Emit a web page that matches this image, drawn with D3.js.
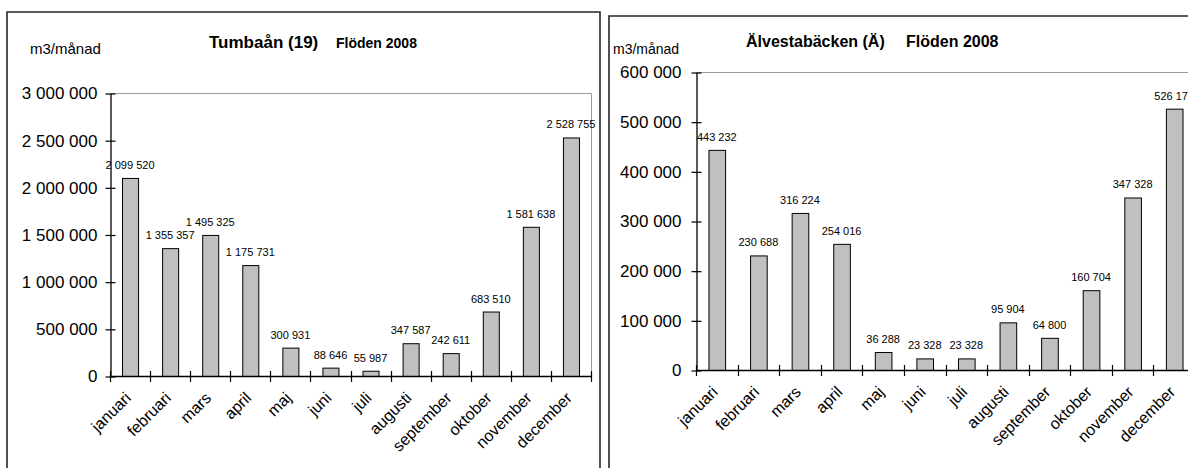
<!DOCTYPE html>
<html>
<head>
<meta charset="utf-8">
<script src="https://cdn.jsdelivr.net/npm/d3@7"></script>
<style>
  html, body { margin: 0; padding: 0; background: #fff; }
  svg { display: block; font-family: "Liberation Sans", Arial, sans-serif; }
</style>
</head>
<body>
<svg id="chart" width="1188" height="468"></svg>
<script>
// Monthly flows 2008 (m3 per month)
const months = ["januari", "februari", "mars", "april", "maj", "juni", "juli",
                "augusti", "september", "oktober", "november", "december"];
const tumbaanFlows = [2099520, 1355357, 1495325, 1175731, 300931, 88646, 55987,
                      347587, 242611, 683510, 1581638, 2528755];
const alvestaFlows = [443232, 230688, 316224, 254016, 36288, 23328, 23328,
                      95904, 64800, 160704, 347328, 526176];
const tumbaanTicks = [0, 500000, 1000000, 1500000, 2000000, 2500000, 3000000];
const alvestaTicks = [0, 100000, 200000, 300000, 400000, 500000, 600000];

const locale = d3.formatLocale({ decimal: ",", thousands: " ", grouping: [3], currency: ["", ""] });
const fmt = locale.format(",d");

const svg = d3.select("#chart");

function drawPanel(o) {
  const g = svg.append("g");

  // outer chart frame
  g.append("path")
    .attr("d", `M${o.frame.left},${o.frame.bottom} V${o.frame.top} H${o.frame.right} V${o.frame.bottom}`)
    .attr("fill", "none").attr("stroke", "#262626").attr("stroke-width", 1.6);

  const x = d3.scaleBand().domain(months)
    .range([o.plot.left, o.plot.right])
    .paddingInner(0.6).paddingOuter(0.3);
  const y = d3.scaleLinear().domain([0, d3.max(o.ticks)])
    .range([o.plot.zero, o.plot.top]);

  // plot area border (top and right)
  g.append("path")
    .attr("d", `M${o.plot.left},${y(d3.max(o.ticks)) + 0.5} H${o.plot.right + 0.5} V${o.plot.zero}`)
    .attr("fill", "none").attr("stroke", "#9a9a9a").attr("stroke-width", 1);

  // bars
  g.selectAll("rect.bar").data(o.values).join("rect")
    .attr("class", "bar")
    .attr("x", (d, i) => x(months[i]) + 0.5)
    .attr("y", d => y(d) + 0.5)
    .attr("width", x.bandwidth())
    .attr("height", d => y(0) - y(d))
    .attr("fill", "#c0c0c0").attr("stroke", "#000").attr("stroke-width", 1);

  // value labels
  g.selectAll("text.val").data(o.values).join("text")
    .attr("class", "val")
    .attr("x", (d, i) => x(months[i]) + x.bandwidth() / 2)
    .attr("y", d => y(d) - 9)
    .attr("text-anchor", "middle")
    .attr("font-size", 11).attr("fill", "#000")
    .text(d => fmt(d));

  // y axis
  const yAxis = g.append("g")
    .attr("transform", `translate(${o.plot.left + 0.5},0.5)`)
    .call(d3.axisLeft(y).tickValues(o.ticks).tickFormat(fmt)
      .tickSizeInner(5).tickSizeOuter(0).tickPadding(o.yPad));
  yAxis.attr("font-family", null).attr("font-size", null);
  yAxis.select(".domain").attr("stroke", "#000").attr("stroke-width", 1.3);
  yAxis.selectAll(".tick line").attr("x1", 5).attr("stroke", "#000").attr("stroke-width", 1.2);
  yAxis.selectAll(".tick text").attr("font-size", 17).attr("fill", "#000");

  // x axis line with tick marks at category boundaries
  const edges = d3.range(months.length + 1).map(i => o.plot.left + i * x.step());
  const xAxis = g.append("g");
  xAxis.append("line")
    .attr("x1", o.plot.left).attr("x2", Math.min(o.plot.right, 1200))
    .attr("y1", y(0) + 0.5).attr("y2", y(0) + 0.5)
    .attr("stroke", "#000").attr("stroke-width", 1.3);
  xAxis.selectAll("line.tk").data(edges).join("line")
    .attr("class", "tk")
    .attr("x1", d => Math.round(d) + 0.5).attr("x2", d => Math.round(d) + 0.5)
    .attr("y1", y(0) - 5).attr("y2", y(0) + 6)
    .attr("stroke", "#000").attr("stroke-width", 1.2);
  xAxis.selectAll("text.cat").data(months).join("text")
    .attr("class", "cat")
    .attr("transform", d => `translate(${x(d) + x.bandwidth() / 2 - 2},${y(0) + 19}) rotate(-45)`)
    .attr("text-anchor", "end").attr("dy", "0.35em")
    .attr("font-size", 16).attr("fill", "#000")
    .text(d => d);

  // unit label
  g.append("text")
    .attr("x", o.unit.x).attr("y", o.unit.y)
    .attr("font-size", o.unit.size).attr("fill", "#000")
    .text("m3/månad");

  // titles
  o.titles.forEach(t => {
    g.append("text")
      .attr("x", t.x).attr("y", t.y)
      .attr("font-size", t.size).attr("font-weight", "bold").attr("fill", "#000")
      .text(t.text);
  });
}

drawPanel({
  values: tumbaanFlows,
  ticks: tumbaanTicks,
  frame: { left: 7, top: 12, right: 600, bottom: 472 },
  plot: { left: 110, right: 591, top: 93, zero: 376 },
  yPad: 8,
  unit: { x: 30, y: 54, size: 15 },
  titles: [
    { text: "Tumbaån (19)", x: 209, y: 48, size: 17 },
    { text: "Flöden 2008", x: 336, y: 48, size: 14 }
  ]
});

drawPanel({
  values: alvestaFlows,
  ticks: alvestaTicks,
  frame: { left: 609, top: 16, right: 1200, bottom: 472 },
  plot: { left: 696, right: 1195, top: 72, zero: 370 },
  yPad: 10,
  unit: { x: 613, y: 54, size: 14 },
  titles: [
    { text: "Älvestabäcken (Ä)", x: 746, y: 47, size: 16 },
    { text: "Flöden 2008", x: 906, y: 47, size: 16 }
  ]
});
</script>
</body>
</html>
